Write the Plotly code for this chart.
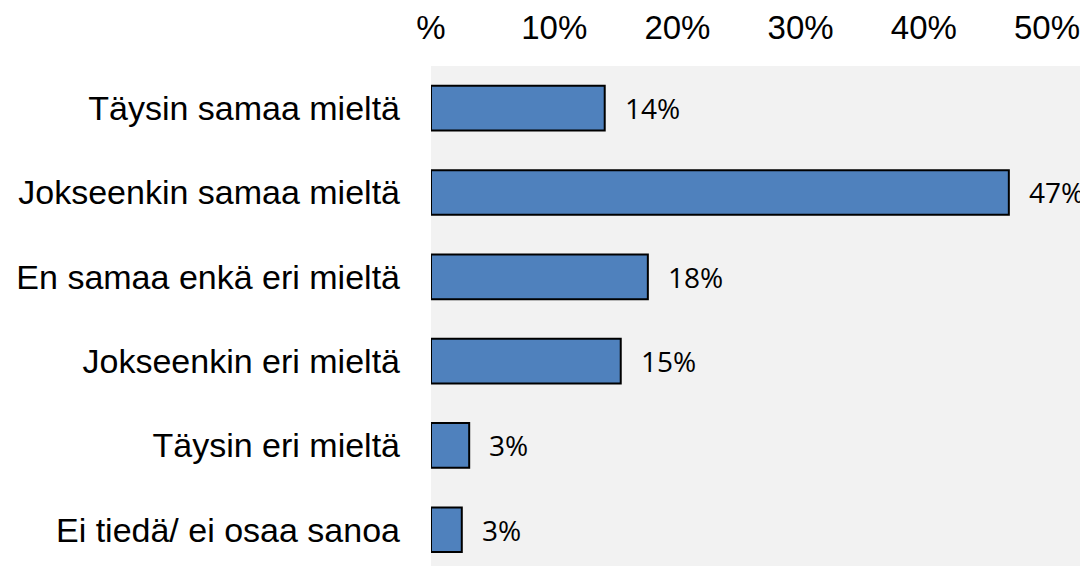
import plotly.graph_objects as go

# 数据: 类别, 百分比, 标签
categories = [
    "Täysin samaa mieltä",
    "Jokseenkin samaa mieltä",
    "En samaa enkä eri mieltä",
    "Jokseenkin eri mieltä",
    "Täysin eri mieltä",
    "Ei tiedä/ ei osaa sanoa",
]
values = [14.1, 46.9, 17.6, 15.4, 3.1, 2.5]
value_labels = ["14%", "47%", "18%", "15%", "3%", "3%"]
tick_vals = [0, 10, 20, 30, 40, 50]
tick_text = ["%", "10%", "20%", "30%", "40%", "50%"]

fig = go.Figure()
fig.add_trace(go.Bar(
    x=values,
    y=categories,
    orientation="h",
    marker=dict(color="#4F81BD", line=dict(color="black", width=2)),
    width=0.53,
    hoverinfo="x+y",
))

# 数值标签放在条形右侧
for cat, val, lab in zip(categories, values, value_labels):
    fig.add_annotation(
        x=val, y=cat, text=lab, showarrow=False,
        xanchor="left", xshift=18,
        font=dict(family="Open Sans, sans-serif", size=28, color="black"),
    )

# 页面body有8px边距, 所以图形尺寸减去8
fig.update_layout(
    width=1080,
    height=558,
    margin=dict(l=423, r=4, t=58, b=0),
    paper_bgcolor="white",
    plot_bgcolor="#F2F2F2",
    showlegend=False,
    font=dict(family="Liberation Sans, Arial, sans-serif", size=34, color="black"),
)
fig.update_xaxes(
    side="top",
    range=[0, 53],
    tickvals=tick_vals,
    ticktext=tick_text,
    showgrid=False,
    zeroline=False,
    showline=False,
    ticks="",
    automargin=False,
    ticklabelstandoff=19,
    tickfont=dict(size=33),
)
fig.update_yaxes(
    categoryorder="array",
    categoryarray=categories,
    range=[5.43, -0.5],
    showgrid=False,
    zeroline=False,
    showline=False,
    ticks="",
    automargin=False,
    ticklabelstandoff=30,
    tickfont=dict(size=34),
)

fig.write_html("out.html")
